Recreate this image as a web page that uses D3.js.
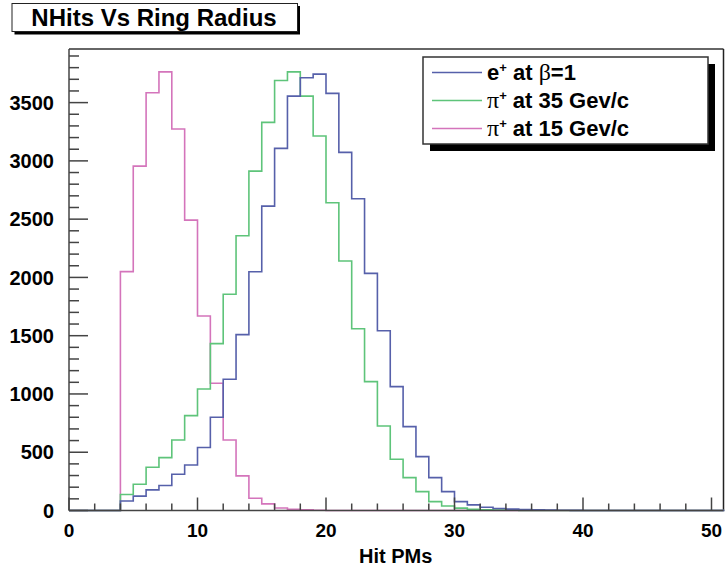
<!DOCTYPE html>
<html>
<head>
<meta charset="utf-8">
<script src="https://cdn.jsdelivr.net/npm/d3@7"></script>
<style>
  body { margin: 0; background: #fff; }
  svg { display: block; font-family: "Liberation Sans", Arial, sans-serif; }
</style>
</head>
<body>
<div id="chart"></div>
<script>
// bin contents, one per unit bin starting at 0
var ePlus    = [0,0,0,0,82,123,177,214,311,391,540,800,1126,1509,2049,2612,3107,3556,3713,3744,3579,3073,2675,2035,1543,1063,720,462,282,162,76,48,28,17,12,8,5,3,2,1,0,0,0,0,0,0,0,0,0,0,0];
var pi35     = [0,0,0,0,137,225,371,454,605,814,1043,1432,1855,2358,2912,3330,3690,3764,3556,3213,2641,2141,1560,1106,725,440,282,162,76,39,20,10,6,4,2,0,0,0,0,0,0,0,0,0,0,0,0,0,0,0,0];
var pi15     = [0,0,0,0,2050,2955,3584,3764,3273,2492,1669,1092,605,297,105,57,22,10,5,2,0,0,0,0,0,0,0,0,0,0,0,0,0,0,0,0,0,0,0,0,0,0,0,0,0,0,0,0,0,0,0];
var xTicks   = [0, 10, 20, 30, 40, 50];
var yTicks   = [0, 500, 1000, 1500, 2000, 2500, 3000, 3500];

var width = 725, height = 572;
var frame = { left: 69, right: 723.5, top: 49, bottom: 510.5 };

var svg = d3.select("#chart").append("svg")
    .attr("width", width).attr("height", height);

var x = d3.scaleLinear().domain([0, 51]).range([frame.left, frame.left + 51 * 12.85]);
var y = d3.scaleLinear().domain([0, 3960]).range([frame.bottom, frame.top]);

// frame
svg.append("line").attr("x1", frame.left).attr("x2", frame.right)
    .attr("y1", frame.top).attr("y2", frame.top)
    .attr("stroke", "#666").attr("stroke-width", 2);
svg.append("line").attr("x1", frame.right).attr("x2", frame.right)
    .attr("y1", frame.top).attr("y2", frame.bottom)
    .attr("stroke", "#222").attr("stroke-width", 1.5);

// histograms, drawn as steps
var series = [
    { data: pi15, color: "#d474bb" },
    { data: pi35, color: "#5ec47a" },
    { data: ePlus, color: "#5660aa" }
];

var step = d3.line()
    .x(function(d) { return x(d[0]); })
    .y(function(d) { return y(d[1]); })
    .curve(d3.curveStepAfter);

series.forEach(function(s) {
    var pts = s.data.map(function(v, i) { return [i, v]; });
    pts.push([s.data.length, s.data[s.data.length - 1]]);
    svg.append("path")
        .attr("d", step(pts))
        .attr("fill", "none")
        .attr("stroke", s.color)
        .attr("stroke-width", 1.6);
});

// x axis
var xAxis = svg.append("g");
xAxis.append("line").attr("x1", frame.left).attr("x2", frame.right)
    .attr("y1", frame.bottom).attr("y2", frame.bottom)
    .attr("stroke", "#444").attr("stroke-width", 1.5);
d3.range(0, 51, 2).forEach(function(t) {
    xAxis.append("line").attr("x1", x(t)).attr("x2", x(t))
        .attr("y1", frame.bottom).attr("y2", frame.bottom - (t % 10 === 0 ? 13 : 7))
        .attr("stroke", "#444").attr("stroke-width", 1.5);
});
xAxis.selectAll("text").data(xTicks).enter().append("text")
    .attr("x", function(d) { return x(d); })
    .attr("y", 537)
    .attr("text-anchor", "middle")
    .attr("font-size", 19).attr("font-weight", "bold")
    .text(function(d) { return d; });
svg.append("text").attr("x", 359).attr("y", 563)
    .attr("font-size", 20).attr("font-weight", "bold")
    .text("Hit PMs");

// y axis
var yAxis = svg.append("g");
yAxis.append("line").attr("x1", frame.left).attr("x2", frame.left)
    .attr("y1", frame.top).attr("y2", frame.bottom)
    .attr("stroke", "#444").attr("stroke-width", 1.5);
d3.range(0, 3901, 100).forEach(function(t) {
    yAxis.append("line").attr("x1", frame.left).attr("x2", frame.left + (t % 500 === 0 ? 19 : 10))
        .attr("y1", y(t)).attr("y2", y(t))
        .attr("stroke", "#444").attr("stroke-width", 1.5);
});
yAxis.selectAll("text").data(yTicks).enter().append("text")
    .attr("x", 54)
    .attr("y", function(d) { return y(d); })
    .attr("dy", "0.36em")
    .attr("text-anchor", "end")
    .attr("font-size", 20).attr("font-weight", "bold")
    .text(function(d) { return d; });

// title box
svg.append("rect").attr("x", 14.5).attr("y", 6).attr("width", 285.5).attr("height", 28.5).attr("fill", "#000");
svg.append("rect").attr("x", 12).attr("y", 3.5).attr("width", 285.5).attr("height", 28)
    .attr("fill", "#fff").attr("stroke", "#222").attr("stroke-width", 1);
svg.append("text").attr("x", 154).attr("y", 25.5)
    .attr("text-anchor", "middle")
    .attr("font-size", 24).attr("font-weight", "bold")
    .text("NHits Vs Ring Radius");

// legend
var legend = svg.append("g");
legend.append("rect").attr("x", 430).attr("y", 64).attr("width", 285).attr("height", 87).attr("fill", "#000");
legend.append("rect").attr("x", 423).attr("y", 57).attr("width", 285).attr("height", 87)
    .attr("fill", "#fff").attr("stroke", "#333").attr("stroke-width", 1.5);

var entries = [
    { color: "#5660aa", sym: "e", symSerif: false, sup: "+", rest: " at ", greek: "\u03b2", tail: "=1" },
    { color: "#5ec47a", sym: "\u03c0", symSerif: true, sup: "+", rest: " at 35 Gev/c", greek: "", tail: "" },
    { color: "#d474bb", sym: "\u03c0", symSerif: true, sup: "+", rest: " at 15 Gev/c", greek: "", tail: "" }
];
var rowY = [72.5, 100.5, 128.5];

entries.forEach(function(e, i) {
    legend.append("line").attr("x1", 432).attr("x2", 482)
        .attr("y1", rowY[i]).attr("y2", rowY[i])
        .attr("stroke", e.color).attr("stroke-width", 1.6);
    var t = legend.append("text").attr("x", 487).attr("y", rowY[i] + 7)
        .attr("font-size", 22).attr("font-weight", "bold");
    var s = t.append("tspan").text(e.sym);
    if (e.symSerif) s.attr("font-family", "'Liberation Serif', serif").attr("font-weight", "normal").attr("font-size", 24);
    t.append("tspan").attr("dy", -8).attr("font-size", 13).text(e.sup);
    t.append("tspan").attr("dy", 8).text(e.rest);
    if (e.greek) {
        t.append("tspan").attr("font-family", "'Liberation Serif', serif").attr("font-weight", "normal")
            .attr("font-size", 24).text(e.greek);
        t.append("tspan").text(e.tail);
    }
});
</script>
</body>
</html>
